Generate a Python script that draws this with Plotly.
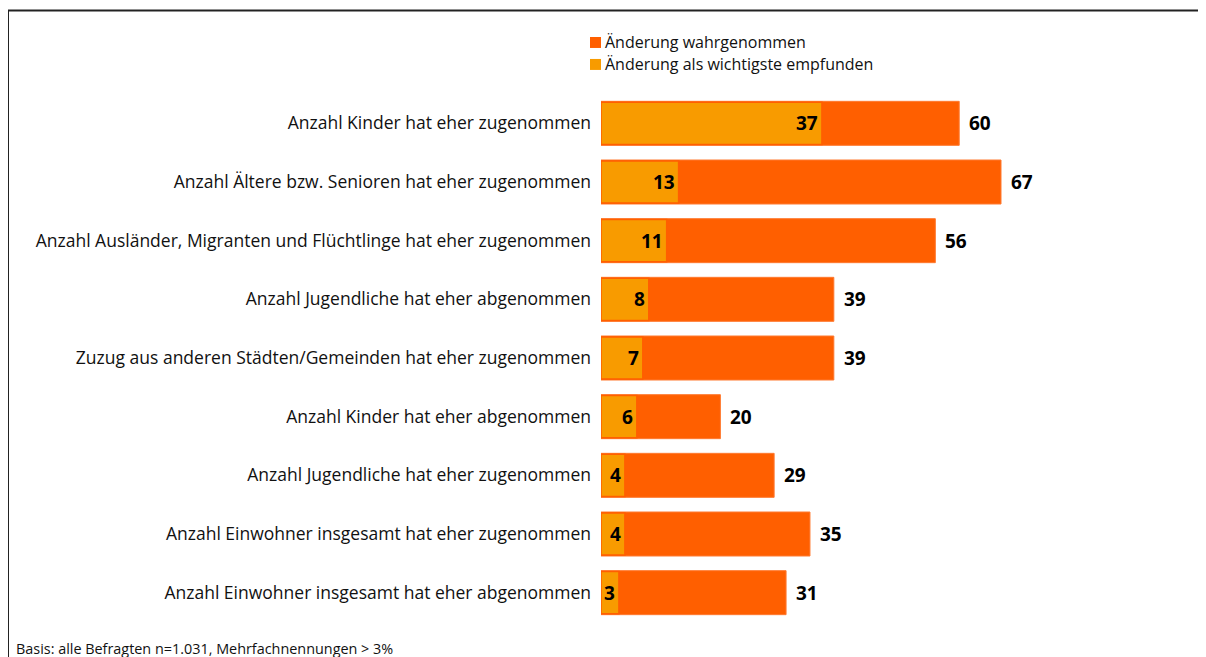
import plotly.graph_objects as go

categories = [
    "Anzahl Kinder hat eher zugenommen",
    "Anzahl Ältere bzw. Senioren hat eher zugenommen",
    "Anzahl Ausländer, Migranten und Flüchtlinge hat eher zugenommen",
    "Anzahl Jugendliche hat eher abgenommen",
    "Zuzug aus anderen Städten/Gemeinden hat eher zugenommen",
    "Anzahl Kinder hat eher abgenommen",
    "Anzahl Jugendliche hat eher zugenommen",
    "Anzahl Einwohner insgesamt hat eher zugenommen",
    "Anzahl Einwohner insgesamt hat eher abgenommen",
]
wahrgenommen = [60, 67, 56, 39, 39, 20, 29, 35, 31]
wichtigste = [37, 13, 11, 8, 7, 6, 4, 4, 3]
series_names = ["Änderung wahrgenommen", "Änderung als wichtigste empfunden"]
footnote = "Basis: alle Befragten n=1.031, Mehrfachnennungen > 3%"

C_ORANGE = "#FF5F00"
C_AMBER = "#F89B00"
FONT = "Open Sans"

OFF = 8  # page offset of the figure inside the browser window
W, H = 1206, 649
L = 601 - OFF
T = 93.6 - OFF
B = H - (622.4 - OFF)
R = W - (1198 - L - 5) - L
PW, PH = W - L - R, H - T - B


def px(xp):  # window pixel -> paper x
    return (xp - OFF - L) / PW


def py(yp):  # window pixel -> paper y
    return 1 - (yp - OFF - T) / PH


fig = go.Figure()
fig.add_trace(go.Bar(
    y=categories, x=wahrgenommen, orientation="h", name=series_names[0],
    marker=dict(color=C_ORANGE, line=dict(color="#FF7A30", width=1)),
    width=0.75, showlegend=False, hoverinfo="x+y",
))
fig.add_trace(go.Bar(
    y=categories, x=wichtigste, orientation="h", name=series_names[1],
    marker=dict(color=C_AMBER, line=dict(color=C_ORANGE, width=1.5)),
    width=0.72, showlegend=False, hoverinfo="x+y",
))

ann = []
for c, v in zip(categories, wahrgenommen):
    ann.append(dict(x=v, y=c, xref="x", yref="y", text=f"<b>{v}</b>", showarrow=False,
                    xanchor="left", xshift=8, font=dict(family=FONT, size=19, color="#000")))
for c, v in zip(categories, wichtigste):
    ann.append(dict(x=v, y=c, xref="x", yref="y", text=f"<b>{v}</b>", showarrow=False,
                    xanchor="right", xshift=-2, font=dict(family=FONT, size=19, color="#000")))

shapes = []
for i, (name, col) in enumerate(zip(series_names, [C_ORANGE, C_AMBER])):
    yc = 42 + i * 22
    shapes.append(dict(type="rect", xref="paper", yref="paper",
                       x0=px(590), x1=px(601), y0=py(yc - 5.5), y1=py(yc + 5.5),
                       fillcolor=col, line=dict(width=0)))
    ann.append(dict(x=px(603), y=py(yc), xref="paper", yref="paper", text=name,
                    showarrow=False, xanchor="left", yanchor="middle",
                    font=dict(family=FONT, size=16, color="#111")))

# frame lines
shapes.append(dict(type="line", xref="paper", yref="paper", x0=px(8), x1=px(1220),
                   y0=py(10), y1=py(10), line=dict(color="#222", width=2)))
shapes.append(dict(type="line", xref="paper", yref="paper", x0=px(8), x1=px(8),
                   y0=py(10), y1=py(660), line=dict(color="#222", width=2)))

ann.append(dict(x=px(14), y=py(649), xref="paper", yref="paper", text=footnote,
                showarrow=False, xanchor="left", yanchor="middle",
                font=dict(family=FONT, size=14.4, color="#111")))

fig.update_layout(
    width=W, height=H,
    margin=dict(l=L, r=R, t=T, b=B),
    barmode="overlay",
    plot_bgcolor="white", paper_bgcolor="white",
    xaxis=dict(range=[0, PW / (400 / 67)], visible=False, fixedrange=True),
    yaxis=dict(categoryorder="array", categoryarray=categories, autorange="reversed",
               showgrid=False, zeroline=False, showline=False, ticks="",
               ticklabelstandoff=9,
               tickfont=dict(family=FONT, size=17.5, color="#111")),
    annotations=ann, shapes=shapes,
    showlegend=False,
)

fig.write_html("out.html")
